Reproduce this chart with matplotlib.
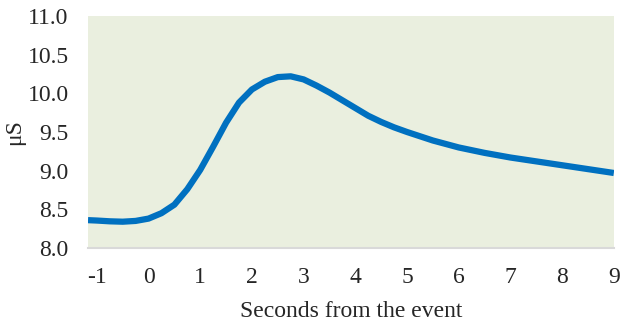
import matplotlib.pyplot as plt

# datos (segundos, microsiemens)
t = [-1.17, -1.0, -0.75, -0.5, -0.25, 0.0, 0.25, 0.5, 0.75, 1.0, 1.25, 1.5, 1.75,
     2.0, 2.25, 2.5, 2.75, 3.0, 3.25, 3.5, 3.75, 4.0, 4.25, 4.5, 4.75, 5.0,
     5.5, 6.0, 6.5, 7.0, 7.5, 8.0, 8.5, 9.0]
us = [8.36, 8.355, 8.345, 8.34, 8.35, 8.38, 8.45, 8.56, 8.76, 9.01, 9.31, 9.62, 9.88,
      10.05, 10.15, 10.21, 10.22, 10.18, 10.10, 10.01, 9.91, 9.81, 9.71, 9.63, 9.56, 9.50,
      9.39, 9.30, 9.23, 9.17, 9.12, 9.07, 9.02, 8.97]
xticks = [-1, 0, 1, 2, 3, 4, 5, 6, 7, 8, 9]
yticks = [8.0, 8.5, 9.0, 9.5, 10.0, 10.5, 11.0]

plt.rcParams['font.family'] = ['Liberation Serif', 'DejaVu Serif']

fig = plt.figure(figsize=(6.27, 3.24), dpi=100)
ax = fig.add_axes([0.1404, 0.2346, 0.8386, 0.716])
ax.set_facecolor('#EAEFDF')
ax.plot(t, us, color='#0070C0', lw=4.5, solid_capstyle='butt', solid_joinstyle='round')

ax.set_xlim(-1.17, 9.0)
ax.set_ylim(8.0, 11.0)
ax.set_xticks(xticks)
ax.set_xticklabels([str(v) for v in xticks])
ax.set_yticks(yticks)
ax.set_yticklabels(['%.1f' % v for v in yticks])
ax.tick_params(length=0, labelsize=17, colors='#262626')
ax.tick_params(axis='y', pad=14)
ax.tick_params(axis='x', pad=14)

for s in ['top', 'right', 'left']:
    ax.spines[s].set_visible(False)
ax.spines['bottom'].set_color('#D9D9D9')
ax.spines['bottom'].set_linewidth(1.5)

ax.set_ylabel('μS', fontsize=17, labelpad=2, color='#262626')
ax.set_xlabel('Seconds from the event', fontsize=17, labelpad=9, color='#262626')

plt.savefig('out.png')
